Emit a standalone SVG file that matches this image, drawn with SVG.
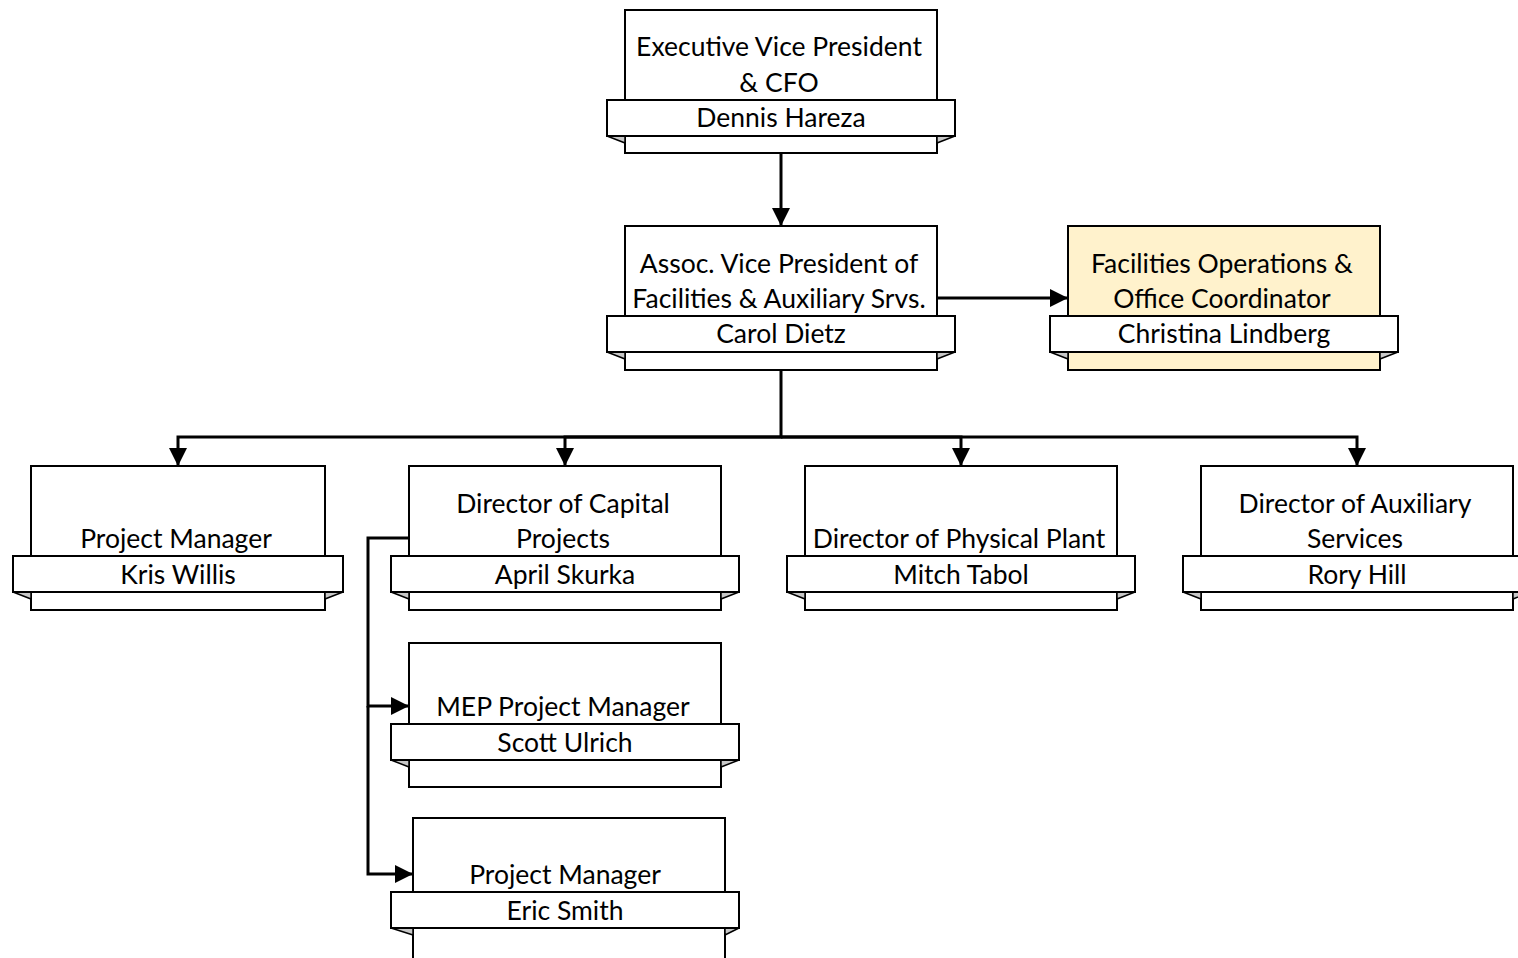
<svg xmlns="http://www.w3.org/2000/svg" width="1518" height="958" viewBox="0 0 1518 958">
<style>
.box{fill:#fff;stroke:#000;stroke-width:2}
.hl{fill:#fff2cc}
.rib{fill:#fff;stroke:#000;stroke-width:2}
.fold{fill:#c8c8c8;stroke:#000;stroke-width:1.5;stroke-linejoin:round}
.t{font-family:Lato,"Liberation Sans",sans-serif;font-size:26.5px;fill:#000;text-anchor:middle}
.c{fill:none;stroke:#000;stroke-width:3}
</style>
<defs>
<marker id="a" viewBox="0 0 18 18" refX="18" refY="9" markerWidth="18" markerHeight="18" markerUnits="userSpaceOnUse" orient="auto">
<path d="M0,0 L18,9 L0,18 z" fill="#000"/>
</marker>
</defs>
<g id="connectors">
<path class="c" d="M781,153 V226" marker-end="url(#a)"/>
<path class="c" d="M937,298 H1068" marker-end="url(#a)"/>
<path class="c" d="M781,370 V437 H178 V466" marker-end="url(#a)"/>
<path class="c" d="M781,437 H565 V466" marker-end="url(#a)"/>
<path class="c" d="M781,437 H961 V466" marker-end="url(#a)"/>
<path class="c" d="M781,437 H1357 V466" marker-end="url(#a)"/>
<path class="c" d="M409,538 H368 V706 H409" marker-end="url(#a)"/>
<path class="c" d="M368,706 V874 H413" marker-end="url(#a)"/>
</g>
<g id="evp">
<rect class="box" x="625" y="10" width="312" height="143"/>
<path class="fold" d="M607,136 L625,136 L625,143 z"/>
<path class="fold" d="M955,136 L937,136 L937,143 z"/>
<rect class="rib" x="607" y="100" width="348" height="36"/>
<text class="t" x="779" y="56">Executive Vice President</text>
<text class="t" x="779" y="92">&amp; CFO</text>
<text class="t" x="781" y="127">Dennis Hareza</text>
</g>
<g id="avp">
<rect class="box" x="625" y="226" width="312" height="144"/>
<path class="fold" d="M607,352 L625,352 L625,359 z"/>
<path class="fold" d="M955,352 L937,352 L937,359 z"/>
<rect class="rib" x="607" y="316" width="348" height="36"/>
<text class="t" x="779" y="273">Assoc. Vice President of</text>
<text class="t" x="779" y="308">Facilities &amp; Auxiliary Srvs.</text>
<text class="t" x="781" y="343">Carol Dietz</text>
</g>
<g id="facilities">
<rect class="box hl" x="1068" y="226" width="312" height="144"/>
<path class="fold" d="M1050,352 L1068,352 L1068,359 z"/>
<path class="fold" d="M1398,352 L1380,352 L1380,359 z"/>
<rect class="rib" x="1050" y="316" width="348" height="36"/>
<text class="t" x="1222" y="273">Facilities Operations &amp;</text>
<text class="t" x="1222" y="308">Office Coordinator</text>
<text class="t" x="1224" y="343">Christina Lindberg</text>
</g>
<g id="kris">
<rect class="box" x="31" y="466" width="294" height="144"/>
<path class="fold" d="M13,592 L31,592 L31,599 z"/>
<path class="fold" d="M343,592 L325,592 L325,599 z"/>
<rect class="rib" x="13" y="556" width="330" height="36"/>
<text class="t" x="176" y="548">Project Manager</text>
<text class="t" x="178" y="584">Kris Willis</text>
</g>
<g id="april">
<rect class="box" x="409" y="466" width="312" height="144"/>
<path class="fold" d="M391,592 L409,592 L409,599 z"/>
<path class="fold" d="M739,592 L721,592 L721,599 z"/>
<rect class="rib" x="391" y="556" width="348" height="36"/>
<text class="t" x="563" y="513">Director of Capital</text>
<text class="t" x="563" y="548">Projects</text>
<text class="t" x="565" y="584">April Skurka</text>
</g>
<g id="mitch">
<rect class="box" x="805" y="466" width="312" height="144"/>
<path class="fold" d="M787,592 L805,592 L805,599 z"/>
<path class="fold" d="M1135,592 L1117,592 L1117,599 z"/>
<rect class="rib" x="787" y="556" width="348" height="36"/>
<text class="t" x="959" y="548">Director of Physical Plant</text>
<text class="t" x="961" y="584">Mitch Tabol</text>
</g>
<g id="rory">
<rect class="box" x="1201" y="466" width="312" height="144"/>
<path class="fold" d="M1183,592 L1201,592 L1201,599 z"/>
<path class="fold" d="M1531,592 L1513,592 L1513,599 z"/>
<rect class="rib" x="1183" y="556" width="348" height="36"/>
<text class="t" x="1355" y="513">Director of Auxiliary</text>
<text class="t" x="1355" y="548">Services</text>
<text class="t" x="1357" y="584">Rory Hill</text>
</g>
<g id="scott">
<rect class="box" x="409" y="643" width="312" height="144"/>
<path class="fold" d="M391,760 L409,760 L409,767 z"/>
<path class="fold" d="M739,760 L721,760 L721,767 z"/>
<rect class="rib" x="391" y="724" width="348" height="36"/>
<text class="t" x="563" y="716">MEP Project Manager</text>
<text class="t" x="565" y="752">Scott Ulrich</text>
</g>
<g id="eric">
<rect class="box" x="413" y="818" width="312" height="144"/>
<path class="fold" d="M391,928 L413,928 L413,935 z"/>
<path class="fold" d="M739,928 L725,928 L725,935 z"/>
<rect class="rib" x="391" y="892" width="348" height="36"/>
<text class="t" x="565" y="884">Project Manager</text>
<text class="t" x="565" y="920">Eric Smith</text>
</g>
</svg>
